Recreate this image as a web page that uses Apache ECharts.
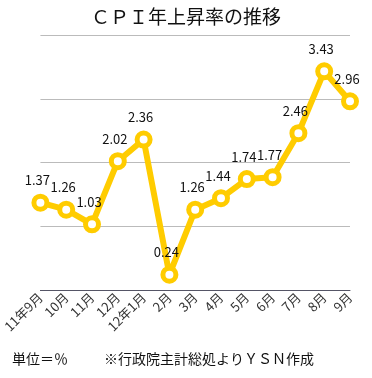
<!DOCTYPE html>
<html><head><meta charset="utf-8">
<script src="https://cdn.jsdelivr.net/npm/echarts@6/dist/echarts.min.js"></script>
<style>html,body{margin:0;padding:0;background:#fff}#c{width:372px;height:378px}</style>
</head><body><div id="c"></div>
<script>
var categories = ['11年9月','10月','11月','12月','12年1月','2月','3月','4月','5月','6月','7月','8月','9月'];
var values = [1.37,1.26,1.03,2.02,2.36,0.24,1.26,1.44,1.74,1.77,2.46,3.43,2.96];
var FONT = '"Noto Sans CJK JP", sans-serif';
var chart = echarts.init(document.getElementById('c'));
chart.setOption({
  animation: false,
  backgroundColor: '#fff',
  title: [
    {text: 'ＣＰＩ年上昇率の推移', left: 'center', top: 2, textStyle: {fontFamily: FONT, fontSize: 19, fontWeight: 'normal', color: '#111'}},
    {text: '単位＝％', left: 7, top: 347, textStyle: {fontFamily: FONT, fontSize: 14, fontWeight: 'normal', color: '#111'}},
    {text: '※行政院主計総処よりＹＳＮ作成', left: 99, top: 347, textStyle: {fontFamily: FONT, fontSize: 14, fontWeight: 'normal', color: '#111'}}
  ],
  grid: {left: 23, right: 22, top: 35, bottom: 88},
  xAxis: {
    type: 'category', data: categories, boundaryGap: false,
    axisLine: {lineStyle: {color: '#555566', width: 1}},
    axisTick: {show: false},
    axisLabel: {rotate: 45, interval: 0, fontFamily: FONT, fontSize: 13, color: '#333', margin: 5}
  },
  yAxis: {
    type: 'value', min: 0, max: 4, interval: 1,
    axisLabel: {show: false}, axisLine: {show: false}, axisTick: {show: false},
    splitLine: {lineStyle: {color: '#bbbbbb', width: 1}}
  },
  series: [{
    type: 'line', data: values,
    lineStyle: {color: '#FFCC00', width: 6},
    symbol: 'circle', symbolSize: 13,
    itemStyle: {color: '#fff', borderColor: '#FFCC00', borderWidth: 5},
    label: {show: true, position: 'top', distance: 7, fontFamily: FONT, fontSize: 13, color: '#111', offset: [-3, 0]}
  }]
});
</script></body></html>
